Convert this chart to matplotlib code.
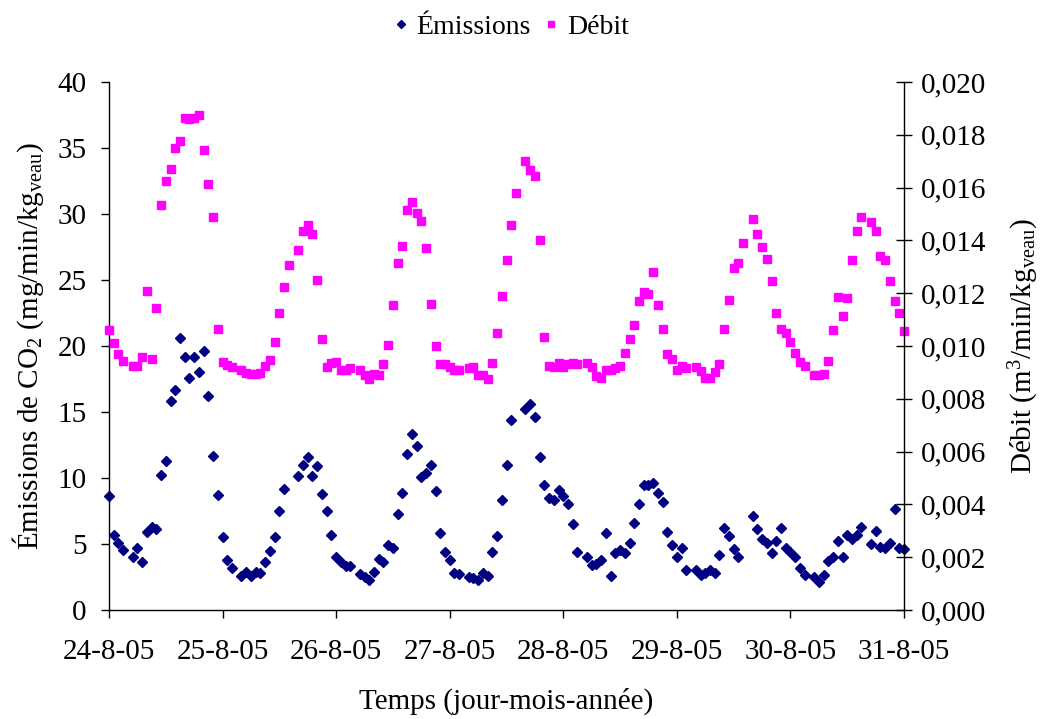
import matplotlib
matplotlib.use('Agg')
import matplotlib.pyplot as plt
import matplotlib.dates as mdates
import matplotlib.ticker as mticker
from matplotlib.lines import Line2D
import numpy as np
import pandas as pd

nan = np.nan

# Hourly CO2 emissions (mg/min/kg veau), one list per day
emis_24 = [8.6, 5.7, 5.1, 4.55, nan, 4.0, 4.7, 3.6, 5.9, 6.3, 6.1, 10.2,
           11.3, 15.8, 16.7, 20.6, 19.2, 17.6, 19.2, 18.0, 19.6, 16.2, 11.7, 8.7]
emis_25 = [5.5, 3.8, 3.2, nan, 2.6, 2.9, 2.6, 2.9, 2.8, 3.6, 4.5, 5.5,
           7.5, 9.2, nan, nan, 10.15, 11.0, 11.6, 10.15, 10.9, 8.8, 7.5, 5.7]
emis_26 = [4.0, 3.6, 3.35, 3.3, nan, 2.7, 2.5, 2.3, 2.9, 3.9, 3.6, 4.9,
           4.7, 7.25, 8.9, 11.8, 13.3, 12.4, 10.1, 10.35, 11.0, 9.0, 5.8, 4.4]
emis_27 = [3.8, 2.8, 2.75, nan, 2.5, 2.4, 2.3, 2.8, 2.6, 4.4, 5.6, 8.3,
           11.0, 14.4, nan, nan, 15.2, 15.6, 14.6, 11.6, 9.5, 8.5, 8.3, 9.1]
emis_28 = [8.6, 8.0, 6.5, 4.4, nan, 4.0, 3.4, 3.5, 3.8, 5.8, 2.6, 4.3,
           4.55, 4.3, 5.1, 6.6, 8.0, 9.5, 9.5, 9.65, 8.9, 8.2, 5.9, 4.9]
emis_29 = [4.0, 4.7, 3.0, nan, 3.0, 2.65, 2.8, 3.0, 2.8, 4.2, 6.2, 5.6,
           4.6, 4.0, nan, nan, 7.1, 6.1, 5.4, 5.1, 4.3, 5.2, 6.2, 4.7]
emis_30 = [4.4, 4.0, 3.2, 2.65, nan, 2.5, 2.15, 2.65, 3.7, 4.0, 5.25, 4.0,
           5.7, 5.4, 5.7, 6.3, nan, 5.0, 6.0, 4.8, 4.7, 5.1, 7.65, 4.7, 4.6]

# Hourly ventilation rate (m3/min/kg veau), one list per day
debit_24 = [0.0106, 0.01013, 0.0097, 0.00945, nan, 0.00925, 0.00925, 0.0096,
            0.0121, 0.0095, 0.01143, 0.01533, 0.01625, 0.0167, 0.0175, 0.01778,
            0.01863, 0.0186, 0.01863, 0.01875, 0.01744, 0.01615, 0.0149, 0.01065]
debit_25 = [0.00938, 0.00928, 0.00922, nan, 0.00909, 0.00899, 0.00893, 0.00895,
            0.00897, 0.00924, 0.00946, 0.01014, 0.01125, 0.01225, 0.01305, nan,
            0.01365, 0.01435, 0.0146, 0.01425, 0.0125, 0.01025, 0.0092, 0.00935]
debit_26 = [0.0094, 0.0091, 0.0091, 0.00915, nan, 0.0091, 0.0089, 0.00875,
            0.00895, 0.0089, 0.0093, 0.01005, 0.01155, 0.01315, 0.0138, 0.01515,
            0.01545, 0.01505, 0.01475, 0.0137, 0.0116, 0.01, 0.0093, 0.0093]
debit_27 = [0.0092, 0.0091, 0.0091, nan, 0.00915, 0.0092, 0.0089, 0.0089,
            0.00875, 0.00935, 0.0105, 0.0119, 0.01325, 0.0146, 0.0158, nan,
            0.017, 0.01665, 0.01645, 0.014, 0.01035, 0.00925, 0.0092, 0.00935]
debit_28 = [0.0092, 0.0093, 0.00935, 0.0093, nan, 0.00935, 0.0092, 0.00885,
            0.0088, 0.0091, 0.0091, 0.00915, 0.00923, 0.00975, 0.01025, 0.0108,
            0.0117, 0.01205, 0.01195, 0.0128, 0.01155, 0.01065, 0.0097, 0.0095]
debit_29 = [0.0091, 0.00925, 0.00915, nan, 0.0092, 0.00905, 0.00878, 0.00878,
            0.00903, 0.0093, 0.01065, 0.01175, 0.01295, 0.01315, 0.0139, nan,
            0.0148, 0.01425, 0.01375, 0.0133, 0.01245, 0.01125, 0.01065, 0.0105]
debit_30 = [0.01015, 0.00975, 0.0094, 0.00925, nan, 0.0089, 0.0089, 0.00895,
            0.00945, 0.0106, 0.01185, 0.01115, 0.0118, 0.01325, 0.01435, 0.0149,
            nan, 0.0147, 0.01435, 0.0134, 0.01325, 0.01245, 0.0117, 0.01125, 0.01055]

emissions = emis_24 + emis_25 + emis_26 + emis_27 + emis_28 + emis_29 + emis_30
debit = debit_24 + debit_25 + debit_26 + debit_27 + debit_28 + debit_29 + debit_30
temps = pd.date_range('2005-08-24', periods=len(emissions), freq='h')

plt.rcParams['font.family'] = 'serif'
plt.rcParams['font.serif'] = ['Liberation Serif', 'DejaVu Serif']
plt.rcParams['font.size'] = 21
plt.rcParams['mathtext.fontset'] = 'custom'
plt.rcParams['mathtext.rm'] = 'Liberation Serif'
plt.rcParams['mathtext.it'] = 'Liberation Serif:italic'

navy = '#000080'
magenta = '#FF00FF'

fig = plt.figure(figsize=(10.45, 7.19), dpi=100)
ax = fig.add_axes([0.1043, 0.1516, 0.7608, 0.7344])
ax2 = ax.twinx()

ax.plot(temps, emissions, linestyle='none', marker='D', markersize=4.6,
        color=navy, clip_on=False)
ax2.plot(temps, debit, linestyle='none', marker='s', markersize=5.3,
         color=magenta, clip_on=False)

ax.set_xlim(pd.Timestamp('2005-08-24'), pd.Timestamp('2005-08-31'))
ax.set_ylim(0, 40)
ax2.set_ylim(0, 0.020)

ax.xaxis.set_major_locator(mdates.DayLocator())
ax.xaxis.set_major_formatter(mdates.DateFormatter('%-d-%-m-%y'))
ax.yaxis.set_major_locator(mticker.MultipleLocator(5))
ax2.yaxis.set_major_locator(mticker.MultipleLocator(0.002))
ax2.yaxis.set_major_formatter(
    mticker.FuncFormatter(lambda v, p: f'{v:.3f}'.replace('.', ',')))

for a in (ax, ax2):
    a.spines['top'].set_visible(False)
ax.spines['right'].set_visible(False)
ax2.spines['left'].set_visible(False)
ax2.spines['bottom'].set_visible(False)
for s in ('left', 'bottom'):
    ax.spines[s].set_linewidth(1.0)
ax2.spines['right'].set_linewidth(1.0)

ax.tick_params(axis='x', direction='out', length=6, width=1.0, pad=15)
ax.tick_params(axis='y', direction='out', length=6, width=1.0, pad=10)
ax2.tick_params(axis='y', direction='inout', length=12, width=1.0, pad=6)

ax.set_xlabel('Temps (jour-mois-année)', labelpad=16)
ax.set_ylabel('Émissions de CO$_2$ (mg/min/kg$_{\\mathrm{veau}}$)', labelpad=8)
ax2.set_ylabel('Débit (m$^3$/min/kg$_{\\mathrm{veau}}$)', labelpad=15)

handles = [Line2D([], [], linestyle='none', marker='D', markersize=4.0, color=navy),
           Line2D([], [], linestyle='none', marker='s', markersize=4.5, color=magenta)]
fig.legend(handles, ['Émissions', 'Débit'], loc='center', fontsize=20,
           bbox_to_anchor=(0.486, 0.962), ncol=2, frameon=False,
           handletextpad=0.05, columnspacing=0.25, handlelength=1.0)

fig.savefig('out.png', dpi=100)
